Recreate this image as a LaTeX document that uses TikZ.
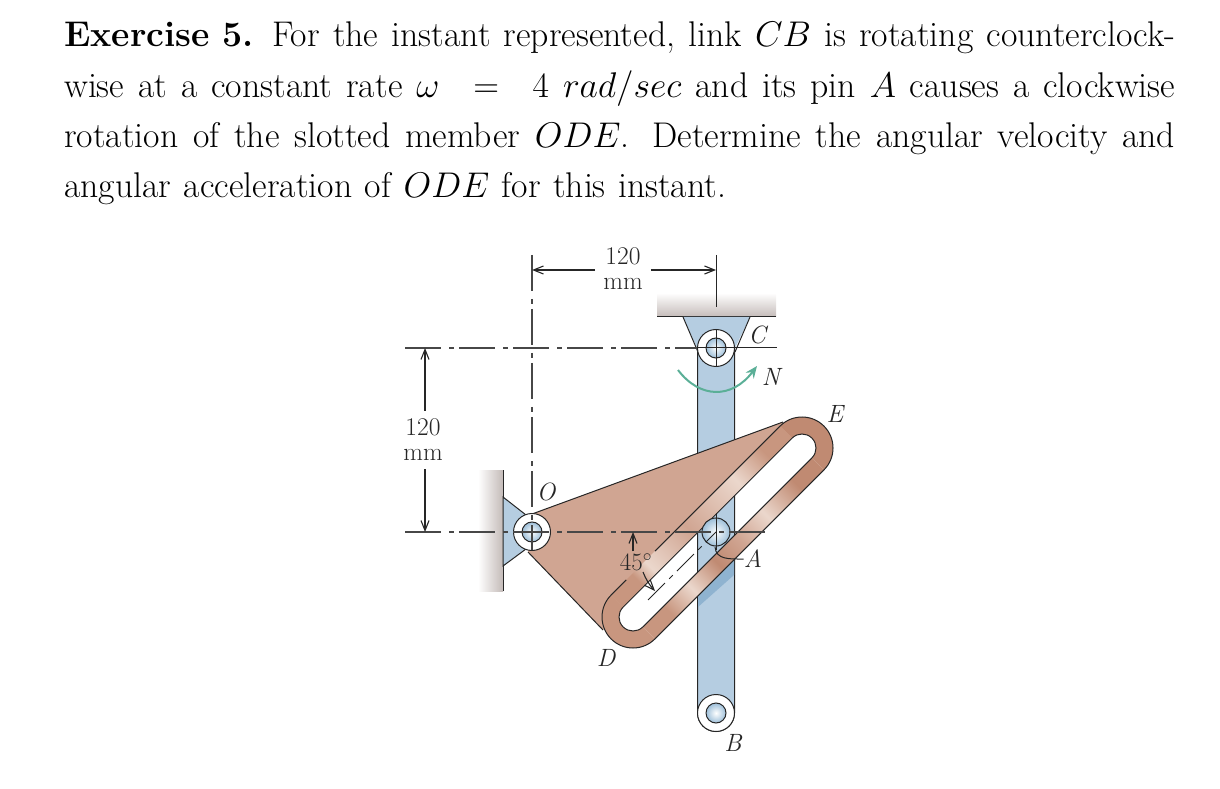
\documentclass[tikz,border=0pt]{standalone}
\usepackage{fix-cm}
\usepackage{tikz}
\usetikzlibrary{calc,arrows.meta}
\definecolor{platecol}{HTML}{D0A592}
\definecolor{bandend}{HTML}{C8967F}
\definecolor{banddark}{HTML}{C08A72}
\definecolor{bandlight}{HTML}{EBD7CC}
\definecolor{linkcol}{HTML}{B5CDE1}
\definecolor{pincol}{HTML}{9DBFD9}
\definecolor{shadowcol}{HTML}{8FB3D0}
\definecolor{wallcol}{HTML}{C4BBB8}
\definecolor{turncol}{HTML}{5BAF97}
\definecolor{inkcol}{HTML}{262626}
\pgfdeclarehorizontalshading{upperband}{100bp}{color(0bp)=(bandend); color(25bp)=(bandend);
  color(30bp)=(bandlight); color(45bp)=(platecol); color(64bp)=(bandlight); color(75bp)=(bandend); color(100bp)=(bandend)}
\pgfdeclarehorizontalshading{lowerband}{100bp}{color(0bp)=(bandend); color(25bp)=(bandend);
  color(34bp)=(bandlight); color(44bp)=(banddark); color(53bp)=(platecol); color(63bp)=(bandlight); color(75bp)=(banddark); color(100bp)=(banddark)}
\tikzset{
  part/.style={draw=inkcol,line width=1pt},
  dimline/.style={draw=inkcol,line width=1.1pt,->,>={Straight Barb[length=10pt,width=8pt]}},
  axisline/.style={draw=inkcol!85,line width=1.2pt,dash pattern=on 36pt off 8pt on 5pt off 5pt},
  lbl/.style={font=\fontsize{25}{25}\selectfont\itshape,text=inkcol,inner sep=0pt},
  dimlbl/.style={font=\fontsize{25.5}{25}\selectfont,text=inkcol,inner sep=0pt,align=center}
}
\newcommand{\pinjoint}[1]{\draw[part,fill=white] (#1) circle (18.5);
  \shade[inner color=white,outer color=pincol] (#1) circle (10);
  \draw[part] (#1) circle (10);}

\begin{document}
\begin{tikzpicture}[x=1pt,y=1pt]
\useasboundingbox (0,0) rectangle (1220,788);
% problem statement
\node[anchor=north west,inner sep=0pt,text width=1111pt,align=justify,
  font=\fontsize{35.7}{50.3}\selectfont] (problem) at (64,766)
  {\spaceskip=.35em plus .3em minus .1em
  \textbf{Exercise 5.} For the instant represented, link $CB$ is rotating counterclock-\linebreak
  wise at a constant rate $\omega\;\;=\;\;4\ rad/sec$ and its pin $A$ causes a clockwise\linebreak
  rotation of the slotted member $ODE$. Determine the angular velocity and\linebreak
  angular acceleration of $ODE$ for this instant.\par};
% main points
\coordinate (O) at (532,256);
\coordinate (C) at (716,440);
\coordinate (A) at (716,256);
\coordinate (B) at (716,75);
\coordinate (Dc) at (633,171);
\coordinate (Ec) at (802,340);
% ground at C and wall at O
\shade[top color=white,bottom color=wallcol] (657,471) rectangle (776,495);
\draw[part] (657,471) -- (776,471);
\draw[part] (716,533) -- (716,481);
\shade[left color=white,right color=wallcol] (478,197) rectangle (503,318);
\draw[part] (503,197) -- (503,318);
% supports
\fill[linkcol] (683,471) -- (750,471) -- (735,440) -- (697,440) -- cycle;
\draw[part] (683,471) -- (698,436);
\draw[part] (750,471) -- (735,436);
\filldraw[part,fill=linkcol] (503,291) -- (526,273) -- (526,239) -- (503,222) -- cycle;
% link CB
\filldraw[part,fill=linkcol] (697.5,440) -- (734.5,440) -- (734.5,75) arc[start angle=0,end angle=-180,radius=18.5] -- cycle;
\fill[shadowcol] (698,192) -- (734,228) -- (734,213) -- (698,181) -- cycle;
% member ODE, the slot left open
\fill[platecol]
  (532,274) -- (783,366) -- ($(Ec)+(135:14)$) -- ($(Dc)+(135:14)$) -- (603,158) -- (528,236) -- cycle;
% the two ends of the bar
\fill[bandend] ($(Dc)+(135:31)$) arc[start angle=135,end angle=315,radius=31] -- ($(Dc)+(-45:14)$)
  arc[start angle=-45,end angle=-225,radius=14] -- cycle;
\fill[banddark] ($(Ec)+(135:31)$) arc[start angle=135,end angle=-45,radius=31] -- ($(Ec)+(-45:14)$)
  arc[start angle=-45,end angle=135,radius=14] -- cycle;
% bright patches on the bar
\shade[shading=upperband,shading angle=45]
  ($(Dc)+(135:14)$) -- ($(Ec)+(135:14)$) -- ($(Ec)+(135:31)$) -- ($(Dc)+(135:31)$) -- cycle;
\shade[shading=lowerband,shading angle=45]
  ($(Dc)+(-45:14)$) -- ($(Ec)+(-45:14)$) -- ($(Ec)+(-45:31)$) -- ($(Dc)+(-45:31)$) -- cycle;
% outlines of ODE
\draw[part] (532,274) -- (783,366);
\draw[part] (603,158) -- (528,236);
\draw[part] ($(Dc)!.09!(Ec)+(135:31)$) -- ($(Dc)+(135:31)$) arc[start angle=135,end angle=315,radius=31]
  -- ($(Ec)+(-45:31)$) arc[start angle=-45,end angle=135,radius=31] -- ($(Dc)!.26!(Ec)+(135:31)$);
\draw[part] ($(Dc)+(135:14)$) -- ($(Ec)+(135:14)$) arc[start angle=135,end angle=-45,radius=14]
  -- ($(Dc)+(-45:14)$) arc[start angle=-45,end angle=-225,radius=14] -- cycle;
% pins
\pinjoint{C}
\pinjoint{O}
\pinjoint{B}
\shade[inner color=white,outer color=pincol] (A) circle (14);
\draw[part] (A) circle (14);
\draw[part] (716,275) -- (716,238);
% centre lines
\coordinate (hCl) at (405,440);
\coordinate (hCr) at (697,440);
\coordinate (hOl) at (405,256);
\coordinate (hOr) at (765,256);
\coordinate (vOt) at (532,533);
\coordinate (vOb) at (532,238);
\coordinate (slotEnd) at (648,188);
\draw[axisline] (hCl) -- (hCr);
\draw[part] (735,440) -- (777,440);
\draw[part] (C)+(-18,0) -- +(18,0);
\draw[part] (C)+(0,18) -- +(0,-18);
\draw[axisline] (hOl) -- (hOr);
\draw[axisline] (vOt) -- (vOb);
\draw[draw=inkcol,line width=1pt,dash pattern=on 24pt off 6pt on 5pt off 6pt] (slotEnd) -- (A);
% dimensions
\node[dimlbl] (dimtop) at (623,519) {120\\mm};
\node[dimlbl] (dimleft) at (423,348) {120\\mm};
\coordinate (dimtopL) at (532,518);
\coordinate (dimtopR) at (716,518);
\coordinate (dimleftT) at (425,440);
\coordinate (dimleftB) at (425,256);
\draw[dimline] (dimtop.west)+(-8,-1) -- (dimtopL);
\draw[dimline] (dimtop.east)+(8,-1) -- (dimtopR);
\draw[dimline] (dimleft.north)+(2,8) -- (dimleftT);
\draw[dimline] (dimleft.south)+(2,-8) -- (dimleftB);
% the 45 degree mark
\node[dimlbl,font=\fontsize{25}{25}\selectfont] (angle) at (636,226) {$45^\circ$};
\coordinate (angleTip) at (633,256);
\coordinate (slotTip) at (655,197);
\draw[dimline] (angle.north)+(-3,2) -- (angleTip);
\draw[dimline] (643,216) to[bend right=10] (slotTip);
% rotation of CB
\coordinate (turnS) at (678,418);
\coordinate (turnE) at (757,422);
\draw[turncol,line width=2pt,->,>={Stealth[length=12pt,width=10pt,inset=4pt]}] (turnS) .. controls (700,389) and (732,389) .. (turnE);
% labels
\node[lbl] (lblO) at (546,296) {O};
\node[lbl] (lblC) at (757,453) {C};
\node[lbl] (lblN) at (771,411) {N};
\node[lbl] (lblE) at (835,374) {E};
\node[lbl] (lblD) at (606,130) {D};
\node[lbl] (lblB) at (733,45) {B};
\node[lbl] (lblA) at (753,229) {A};
\draw[part] (715,241) .. controls (716,228) and (730,229) .. (lblA.west);
\end{tikzpicture}
\end{document}
